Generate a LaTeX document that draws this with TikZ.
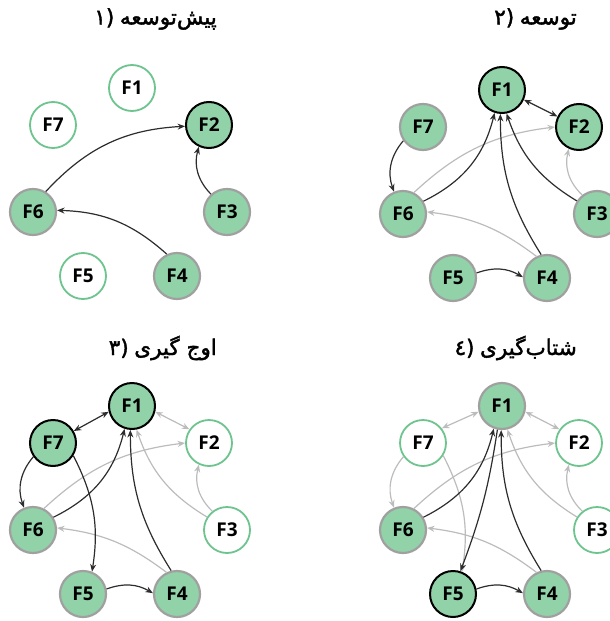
\documentclass[tikz,border=0pt]{standalone}
\usepackage{fontspec}
\setmainfont{Open Sans}
\newfontfamily\farsifont[Script=Arabic,FakeBold=1.8]{DejaVu Sans}
\newfontfamily\digitfont[Script=Latin,FakeBold=1.8]{DejaVu Sans}
\TeXXeTstate=1
\usetikzlibrary{arrows.meta}

\definecolor{fillgreen}{RGB}{146,210,168}
\definecolor{ringgreen}{RGB}{110,196,142}
\definecolor{ringgray}{RGB}{160,160,160}
\definecolor{arrowlight}{RGB}{188,188,188}
\definecolor{arrowdark}{RGB}{45,45,45}

\tikzset{
  fnode/.style={circle,minimum size=46pt,inner sep=0pt,font=\fontsize{19}{22}\selectfont\bfseries},
  live/.style={fnode,draw=ringgray,line width=2.2pt,fill=fillgreen},
  keyf/.style={fnode,draw=black,line width=2pt,fill=fillgreen},
  dorm/.style={fnode,draw=ringgreen,line width=1.8pt,fill=white},
  dk/.style={-{Stealth[length=7.5pt,width=6pt]},draw=arrowdark,line width=1.2pt},
  lt/.style={dk,draw=arrowlight},
  dkb/.style={dk,{Stealth[length=7.5pt,width=6pt]}-{Stealth[length=7.5pt,width=6pt]}},
  ltb/.style={dkb,draw=arrowlight},
  phase/.style={anchor=east,inner sep=0pt,font=\fontsize{21.5}{24}\selectfont}
}

\begin{document}
\begin{tikzpicture}[x=1pt,y=-1pt]
  \useasboundingbox (0,0) rectangle (610,621);

  % phase titles
  \node[phase] (t1) at (217,19) {{\digitfont ۱)}\ {\farsifont\beginR پیش‌توسعه\endR}};
  \node[phase] (t2) at (577,19) {{\digitfont ۲)}\ {\farsifont\beginR توسعه\endR}};
  \node[phase] (t3) at (217,348) {{\digitfont ۳)}\ {\farsifont\beginR اوج گیری\endR}};
  \node[phase] (t4) at (577,348) {{\digitfont ٤)}\ {\farsifont\beginR شتاب‌گیری\endR}};

  % 1) pre-development
  \begin{scope}
    \foreach \n/\p/\s in {1/{132,88}/dorm,7/{53,125}/dorm,2/{209,125}/keyf,6/{33,212}/live,
                          3/{227,212}/live,5/{83,276}/dorm,4/{177,276}/live}
      \node[\s] (a\n) at (\p) {F\n};
    \draw[dk] (a6.58) to[bend left=22] (a2.183);
    \draw[dk] (a3.132) to[bend left=30] (a2.245);
    \draw[dk] (a4.115) to[bend right=20] (a6.4);
  \end{scope}

  % 2) development
  \begin{scope}[shift={(370,2)}]
    \foreach \n/\p/\s in {1/{132,88}/keyf,7/{53,125}/live,2/{209,125}/keyf,6/{33,212}/live,
                          3/{227,212}/live,5/{83,276}/live,4/{177,276}/live}
      \node[\s] (b\n) at (\p) {F\n};
    \draw[lt] (b6.63) to[bend left=18] (b2.180);
    \draw[lt] (b4.116) to[bend right=15] (b6.5);
    \draw[lt] (b3.128) to[bend left=30] (b2.245);
    \draw[dkb] (b1.-24) -- (b2.154);
    \draw[dk] (b7.215) to[bend right=30] (b6.112);
    \draw[dk] (b6.32) to[bend right=25] (b1.252);
    \draw[dk] (b4.104) to[bend left=16] (b1.266);
    \draw[dk] (b3.147) to[bend left=20] (b1.281);
    \draw[dk] (b5.12) to[bend left=25] (b4.178);
  \end{scope}

  % 3) peak
  \begin{scope}[shift={(0,318)}]
    \foreach \n/\p/\s in {1/{132,88}/keyf,7/{53,125}/keyf,2/{209,125}/dorm,6/{33,212}/live,
                          3/{227,212}/dorm,5/{83,276}/live,4/{177,276}/live}
      \node[\s] (c\n) at (\p) {F\n};
    \draw[ltb] (c1.-14) -- (c2.145);
    \draw[lt] (c6.63) to[bend left=18] (c2.180);
    \draw[lt] (c4.116) to[bend right=15] (c6.5);
    \draw[lt] (c3.128) to[bend left=30] (c2.245);
    \draw[lt] (c3.147) to[bend left=20] (c1.281);
    \draw[dkb] (c7.30) -- (c1.194);
    \draw[dk] (c7.215) to[bend right=30] (c6.112);
    \draw[dk] (c7.-32) to[bend left=18] (c5.68);
    \draw[dk] (c6.32) to[bend right=25] (c1.252);
    \draw[dk] (c4.104) to[bend left=16] (c1.266);
    \draw[dk] (c5.12) to[bend left=25] (c4.178);
  \end{scope}

  % 4) acceleration
  \begin{scope}[shift={(370,318)}]
    \foreach \n/\p/\s in {1/{132,88}/live,7/{53,125}/dorm,2/{209,125}/dorm,6/{33,212}/live,
                          3/{227,212}/dorm,5/{83,276}/keyf,4/{177,276}/live}
      \node[\s] (d\n) at (\p) {F\n};
    \draw[ltb] (d7.38) -- (d1.194);
    \draw[ltb] (d1.-14) -- (d2.145);
    \draw[lt] (d7.215) to[bend right=30] (d6.112);
    \draw[lt] (d7.-32) to[bend left=18] (d5.68);
    \draw[lt] (d6.63) to[bend left=18] (d2.180);
    \draw[lt] (d4.116) to[bend right=15] (d6.5);
    \draw[lt] (d3.128) to[bend left=30] (d2.245);
    \draw[lt] (d3.147) to[bend left=20] (d1.283);
    \draw[dk] (d6.32) to[bend right=25] (d1.250);
    \draw[dk] (d1.259) to[bend left=6] (d5.72);
    \draw[dk] (d4.104) to[bend left=16] (d1.268);
    \draw[dk] (d5.12) to[bend left=25] (d4.178);
  \end{scope}
\end{tikzpicture}
\end{document}
